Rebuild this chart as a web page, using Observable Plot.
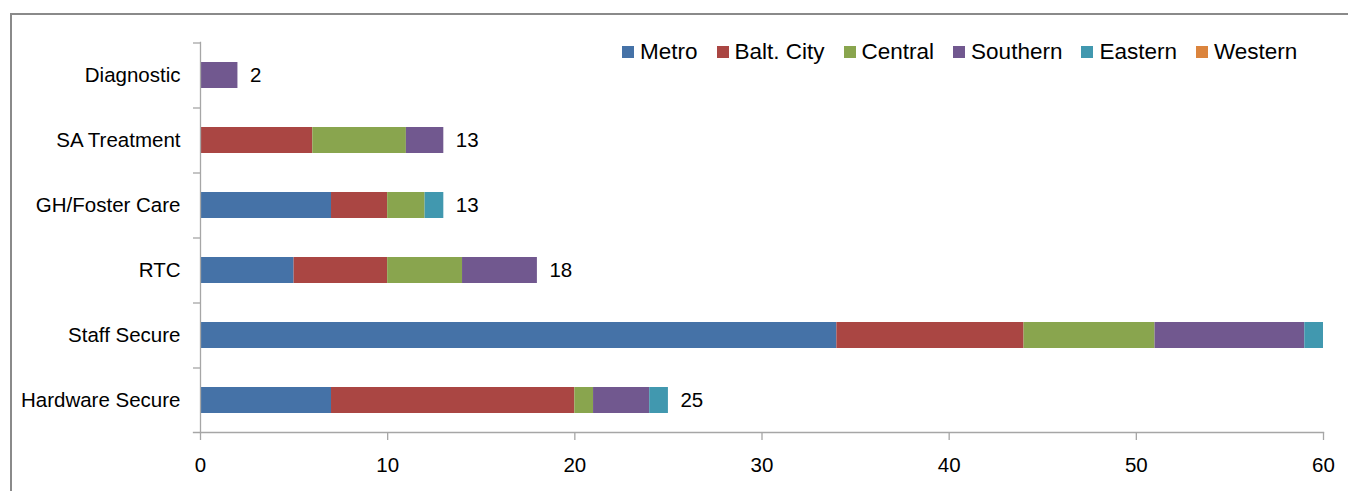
<!DOCTYPE html>
<html>
<head>
<meta charset="utf-8">
<script src="https://cdn.jsdelivr.net/npm/d3@7"></script>
<script src="https://cdn.jsdelivr.net/npm/@observablehq/plot@0.6"></script>
<style>
  html, body { margin: 0; padding: 0; background: #fff; }
  #wrap { position: relative; width: 1348px; height: 491px; overflow: hidden; font-family: "Liberation Sans", Arial, sans-serif; }
  #border { position: absolute; left: 10px; top: 13px; width: 1400px; height: 600px; border-top: 2px solid #8a8a8a; border-left: 2px solid #8a8a8a; }
  #legend { position: absolute; left: 622px; top: 39px; display: flex; align-items: center; font-size: 22.5px; color: #000; white-space: nowrap; }
  #legend .item { display: flex; align-items: center; margin-right: 19px; }
  #legend .sw { width: 12px; height: 12px; margin-right: 6px; }
  #chart { position: absolute; left: 0; top: 0; }
</style>
</head>
<body>
<div id="wrap">
  <div id="border"></div>
  <div id="chart"></div>
  <div id="legend"></div>
</div>
<script>
// ---- data ----
const categories = ["Diagnostic", "SA Treatment", "GH/Foster Care", "RTC", "Staff Secure", "Hardware Secure"];
const seriesNames = ["Metro", "Balt. City", "Central", "Southern", "Eastern", "Western"];
const seriesColors = ["#4572A7", "#AA4643", "#89A54E", "#71588F", "#4198AF", "#DB843D"];
const metro    = [0, 0, 7, 5, 34, 7];
const baltCity = [0, 6, 3, 5, 10, 13];
const central  = [0, 5, 2, 4, 7, 1];
const southern = [2, 2, 0, 4, 8, 3];
const eastern  = [0, 0, 1, 0, 1, 1];
const western  = [0, 0, 0, 0, 0, 0];
const xTicks = [0, 10, 20, 30, 40, 50, 60];

// ---- build table ----
const seriesValues = [metro, baltCity, central, southern, eastern, western];
const rows = [];
categories.forEach((c, i) => {
  seriesNames.forEach((s, j) => {
    rows.push({category: c, series: s, value: seriesValues[j][i]});
  });
});
const totals = categories.map((c, i) => ({category: c, total: d3.sum(seriesValues, v => v[i])}));
const xMax = xTicks[xTicks.length - 1];

const axisGray = "#a6a6a6";

const chart = Plot.plot({
  width: 1348,
  height: 491,
  marginLeft: 200,
  marginRight: 25,
  marginTop: 42,
  marginBottom: 59,
  style: {fontFamily: "'Liberation Sans', Arial, sans-serif", fontSize: "20.5px", color: "#000", background: "transparent", overflow: "visible"},
  x: {domain: [0, xMax], ticks: xTicks},
  y: {domain: categories, paddingInner: 0.6, paddingOuter: 0.3},
  color: {domain: seriesNames, range: seriesColors},
  marks: [
    Plot.barX(rows, {x: "value", y: "category", fill: "series", order: seriesNames}),
    Plot.frame({anchor: "left", stroke: axisGray, strokeWidth: 1.3}),
    Plot.frame({anchor: "bottom", stroke: axisGray, strokeWidth: 1.3, insetLeft: -7}),
    Plot.ruleY(categories, {y: d => d, x1: 0, x2: 0, insetLeft: -7, dy: -32.5, stroke: axisGray, strokeWidth: 1.3}),
    Plot.axisX({ticks: xTicks, tickSize: 8, tickPadding: 17, stroke: axisGray, fill: "#000", strokeWidth: 1.3, label: null, tickFormat: d => String(d)}),
    Plot.axisY({tickSize: 0, tickPadding: 20, fill: "#000", label: null}),
    Plot.text(totals.filter(d => d.total < xMax), {x: "total", y: "category", text: d => String(d.total), textAnchor: "start", dx: 12, fill: "#000"})
  ]
});
document.getElementById("chart").appendChild(chart);

// legend
const legend = d3.select("#legend");
seriesNames.forEach((s, j) => {
  const item = legend.append("div").attr("class", "item");
  item.append("div").attr("class", "sw").style("background", seriesColors[j]);
  item.append("span").text(s);
});
</script>
</body>
</html>
